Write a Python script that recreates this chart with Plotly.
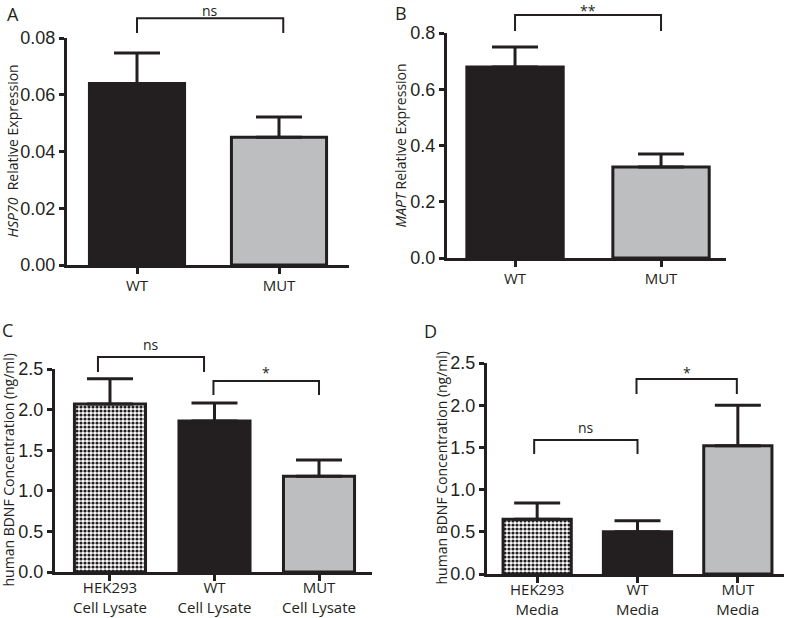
import plotly.graph_objects as go

# ---------------- data ----------------
A_cats = ["WT", "MUT"]
A_vals = [0.064, 0.045]
A_err = [0.0107, 0.0072]

B_cats = ["WT", "MUT"]
B_vals = [0.679, 0.324]
B_err = [0.071, 0.046]

C_cats = ["HEK293<br>Cell Lysate", "WT<br>Cell Lysate", "MUT<br>Cell Lysate"]
C_vals = [2.07, 1.86, 1.18]
C_err = [0.31, 0.22, 0.20]

D_cats = ["HEK293<br>Media", "WT<br>Media", "MUT<br>Media"]
D_vals = [0.65, 0.50, 1.52]
D_err = [0.19, 0.13, 0.48]

# significance brackets: (x_start, x_end, y_bar, y_tip, label, y_label)
A_sig = [(0, 1.03, 0.0870, 0.0818, "ns", 0.0906)]
B_sig = [(0, 1.0, 0.864, 0.807, "**", 0.896)]
C_sig = [(-0.115, 0.90, 2.648, 2.463, "ns", 2.796),
         (0.99, 2.0, 2.352, 2.180, "*", 2.463)]
D_sig = [(-0.03, 1.0, 1.588, 1.422, "ns", 1.730),
         (0.99, 1.99, 2.310, 2.133, "*", 2.393)]

BLACK = "#231F20"
GREY = "#BCBEC0"
W, H = 788, 618

panels = [
    dict(name="A", cats=A_cats, vals=A_vals, err=A_err, sig=A_sig,
         fills=["black", "grey"], xdom=(67, 349), ydom=(265, 38),
         xr=(-0.493, 1.493), yr=(0, 0.08), dtick=0.02, fmt=".2f", bw=0.67,
         title="<i>HSP70</i>  Relative Expression", tx=12, letter=(13, 14),
         standoff=-1),
    dict(name="B", cats=B_cats, vals=B_vals, err=B_err, sig=B_sig,
         fills=["black", "grey"], xdom=(447, 726), ydom=(258, 33),
         xr=(-0.466, 1.445), yr=(0, 0.8), dtick=0.2, fmt=".1f", bw=0.66,
         title="<i>MAPT</i> Relative Expression", tx=400, letter=(401, 8),
         standoff=-1),
    dict(name="C", cats=C_cats, vals=C_vals, err=C_err, sig=C_sig,
         fills=["check", "black", "grey"], xdom=(55, 372), ydom=(572, 369),
         xr=(-0.526, 2.507), yr=(0, 2.5), dtick=0.5, fmt=".1f", bw=0.68,
         title="human BDNF Concentration (ng/ml)", tx=8, letter=(8, 330),
         standoff=-6),
    dict(name="D", cats=D_cats, vals=D_vals, err=D_err, sig=D_sig,
         fills=["check", "black", "grey"], xdom=(487, 784), ydom=(574, 363),
         xr=(-0.50, 2.46), yr=(0, 2.5), dtick=0.5, fmt=".1f", bw=0.68,
         title="human BDNF Concentration (ng/ml)", tx=441, letter=(431, 331),
         standoff=-6),
]

fig = go.Figure()
shapes = []
annotations = []

LABEL_FONT = dict(family="Open Sans", size=15, color=BLACK)
TICK_FONT = dict(family="Liberation Sans", size=18, color=BLACK)


def place(y, size):
    """Return (y, yanchor) so that a label box never leaves the top edge."""
    if y > 1 - 0.72 * size / H:
        return 1.0, "top"
    return y, "middle"


for i, p in enumerate(panels):
    sfx = "" if i == 0 else str(i + 1)
    xdom = (p["xdom"][0] / W, p["xdom"][1] / W)
    ydom = (1 - p["ydom"][0] / H, 1 - p["ydom"][1] / H)
    xs = list(range(len(p["cats"])))

    def xp(v, xdom=xdom, xr=p["xr"]):
        return xdom[0] + (v - xr[0]) / (xr[1] - xr[0]) * (xdom[1] - xdom[0])

    def yp(v, ydom=ydom, yr=p["yr"]):
        return ydom[0] + (v - yr[0]) / (yr[1] - yr[0]) * (ydom[1] - ydom[0])

    for j, (xv, v, e, f) in enumerate(zip(xs, p["vals"], p["err"], p["fills"])):
        marker = dict(line=dict(color=BLACK, width=3))
        if f == "black":
            marker["color"] = BLACK
        elif f == "grey":
            marker["color"] = GREY
        else:
            marker["color"] = "white"
            marker["pattern"] = dict(shape=".", size=4, solidity=0.5,
                                     fgcolor=BLACK, bgcolor="white",
                                     fgopacity=1, fillmode="overlay")
        fig.add_trace(go.Bar(
            x=[xv], y=[v], width=p["bw"], marker=marker,
            error_y=dict(type="data", symmetric=False, array=[e], arrayminus=[0],
                         color=BLACK, thickness=3, width=23),
            xaxis="x" + sfx, yaxis="y" + sfx, showlegend=False,
            hoverinfo="skip",
        ))

    fig.update_layout(**{
        "xaxis" + sfx: dict(domain=xdom, range=list(p["xr"]), anchor="y" + sfx,
                            tickvals=xs, ticktext=p["cats"], showline=True,
                            linecolor=BLACK, linewidth=3, ticks="outside",
                            ticklen=6, tickwidth=3, tickcolor=BLACK,
                            showgrid=False, zeroline=False, tickfont=LABEL_FONT,
                            fixedrange=True, automargin=False,
                            ticklabelstandoff=p["standoff"]),
        "yaxis" + sfx: dict(domain=ydom, range=list(p["yr"]), anchor="x" + sfx,
                            dtick=p["dtick"], tick0=0, tickformat=p["fmt"],
                            showline=True, linecolor=BLACK, linewidth=3,
                            ticks="outside", ticklen=5, tickwidth=3,
                            tickcolor=BLACK, showgrid=False, zeroline=False,
                            tickfont=TICK_FONT, fixedrange=True,
                            automargin=False),
    })

    # axis title
    annotations.append(dict(
        text=p["title"], x=p["tx"] / W, y=(ydom[0] + ydom[1]) / 2,
        xref="paper", yref="paper", textangle=-90, showarrow=False,
        xanchor="center", yanchor="middle",
        font=dict(family="Open Sans", size=14, color=BLACK)))

    # panel letter
    ly, lanchor = place(1 - p["letter"][1] / H, 18)
    annotations.append(dict(
        text=p["name"], x=p["letter"][0] / W, y=ly,
        xref="paper", yref="paper", showarrow=False, xanchor="center",
        yanchor=lanchor, borderpad=0,
        font=dict(family="Open Sans", size=18, color=BLACK)))

    # significance brackets
    for (x0, x1, yb, yt, lab, yl) in p["sig"]:
        path = "M {a},{b} L {a},{c} L {d},{c} L {d},{b}".format(
            a=xp(x0), b=yp(yt), c=yp(yb), d=xp(x1))
        shapes.append(dict(type="path", path=path, xref="paper", yref="paper",
                           line=dict(color=BLACK, width=2)))
        ty, tanchor = place(yp(yl), 14)
        annotations.append(dict(
            text=lab, x=xp((x0 + x1) / 2), y=ty, xref="paper", yref="paper",
            showarrow=False, xanchor="center", yanchor=tanchor, borderpad=0,
            font=dict(family="Open Sans", size=14, color=BLACK)))

fig.update_layout(
    width=W, height=H, margin=dict(l=0, r=0, t=0, b=0, autoexpand=False),
    paper_bgcolor="white", plot_bgcolor="white",
    shapes=shapes, annotations=annotations, barmode="overlay",
    font=dict(family="Open Sans", color=BLACK), hovermode=False,
)

fig.write_html("out.html",
               config={"displayModeBar": False, "staticPlot": True},
               post_script="document.body.style.margin='0';"
                           "document.body.style.padding='0';")
